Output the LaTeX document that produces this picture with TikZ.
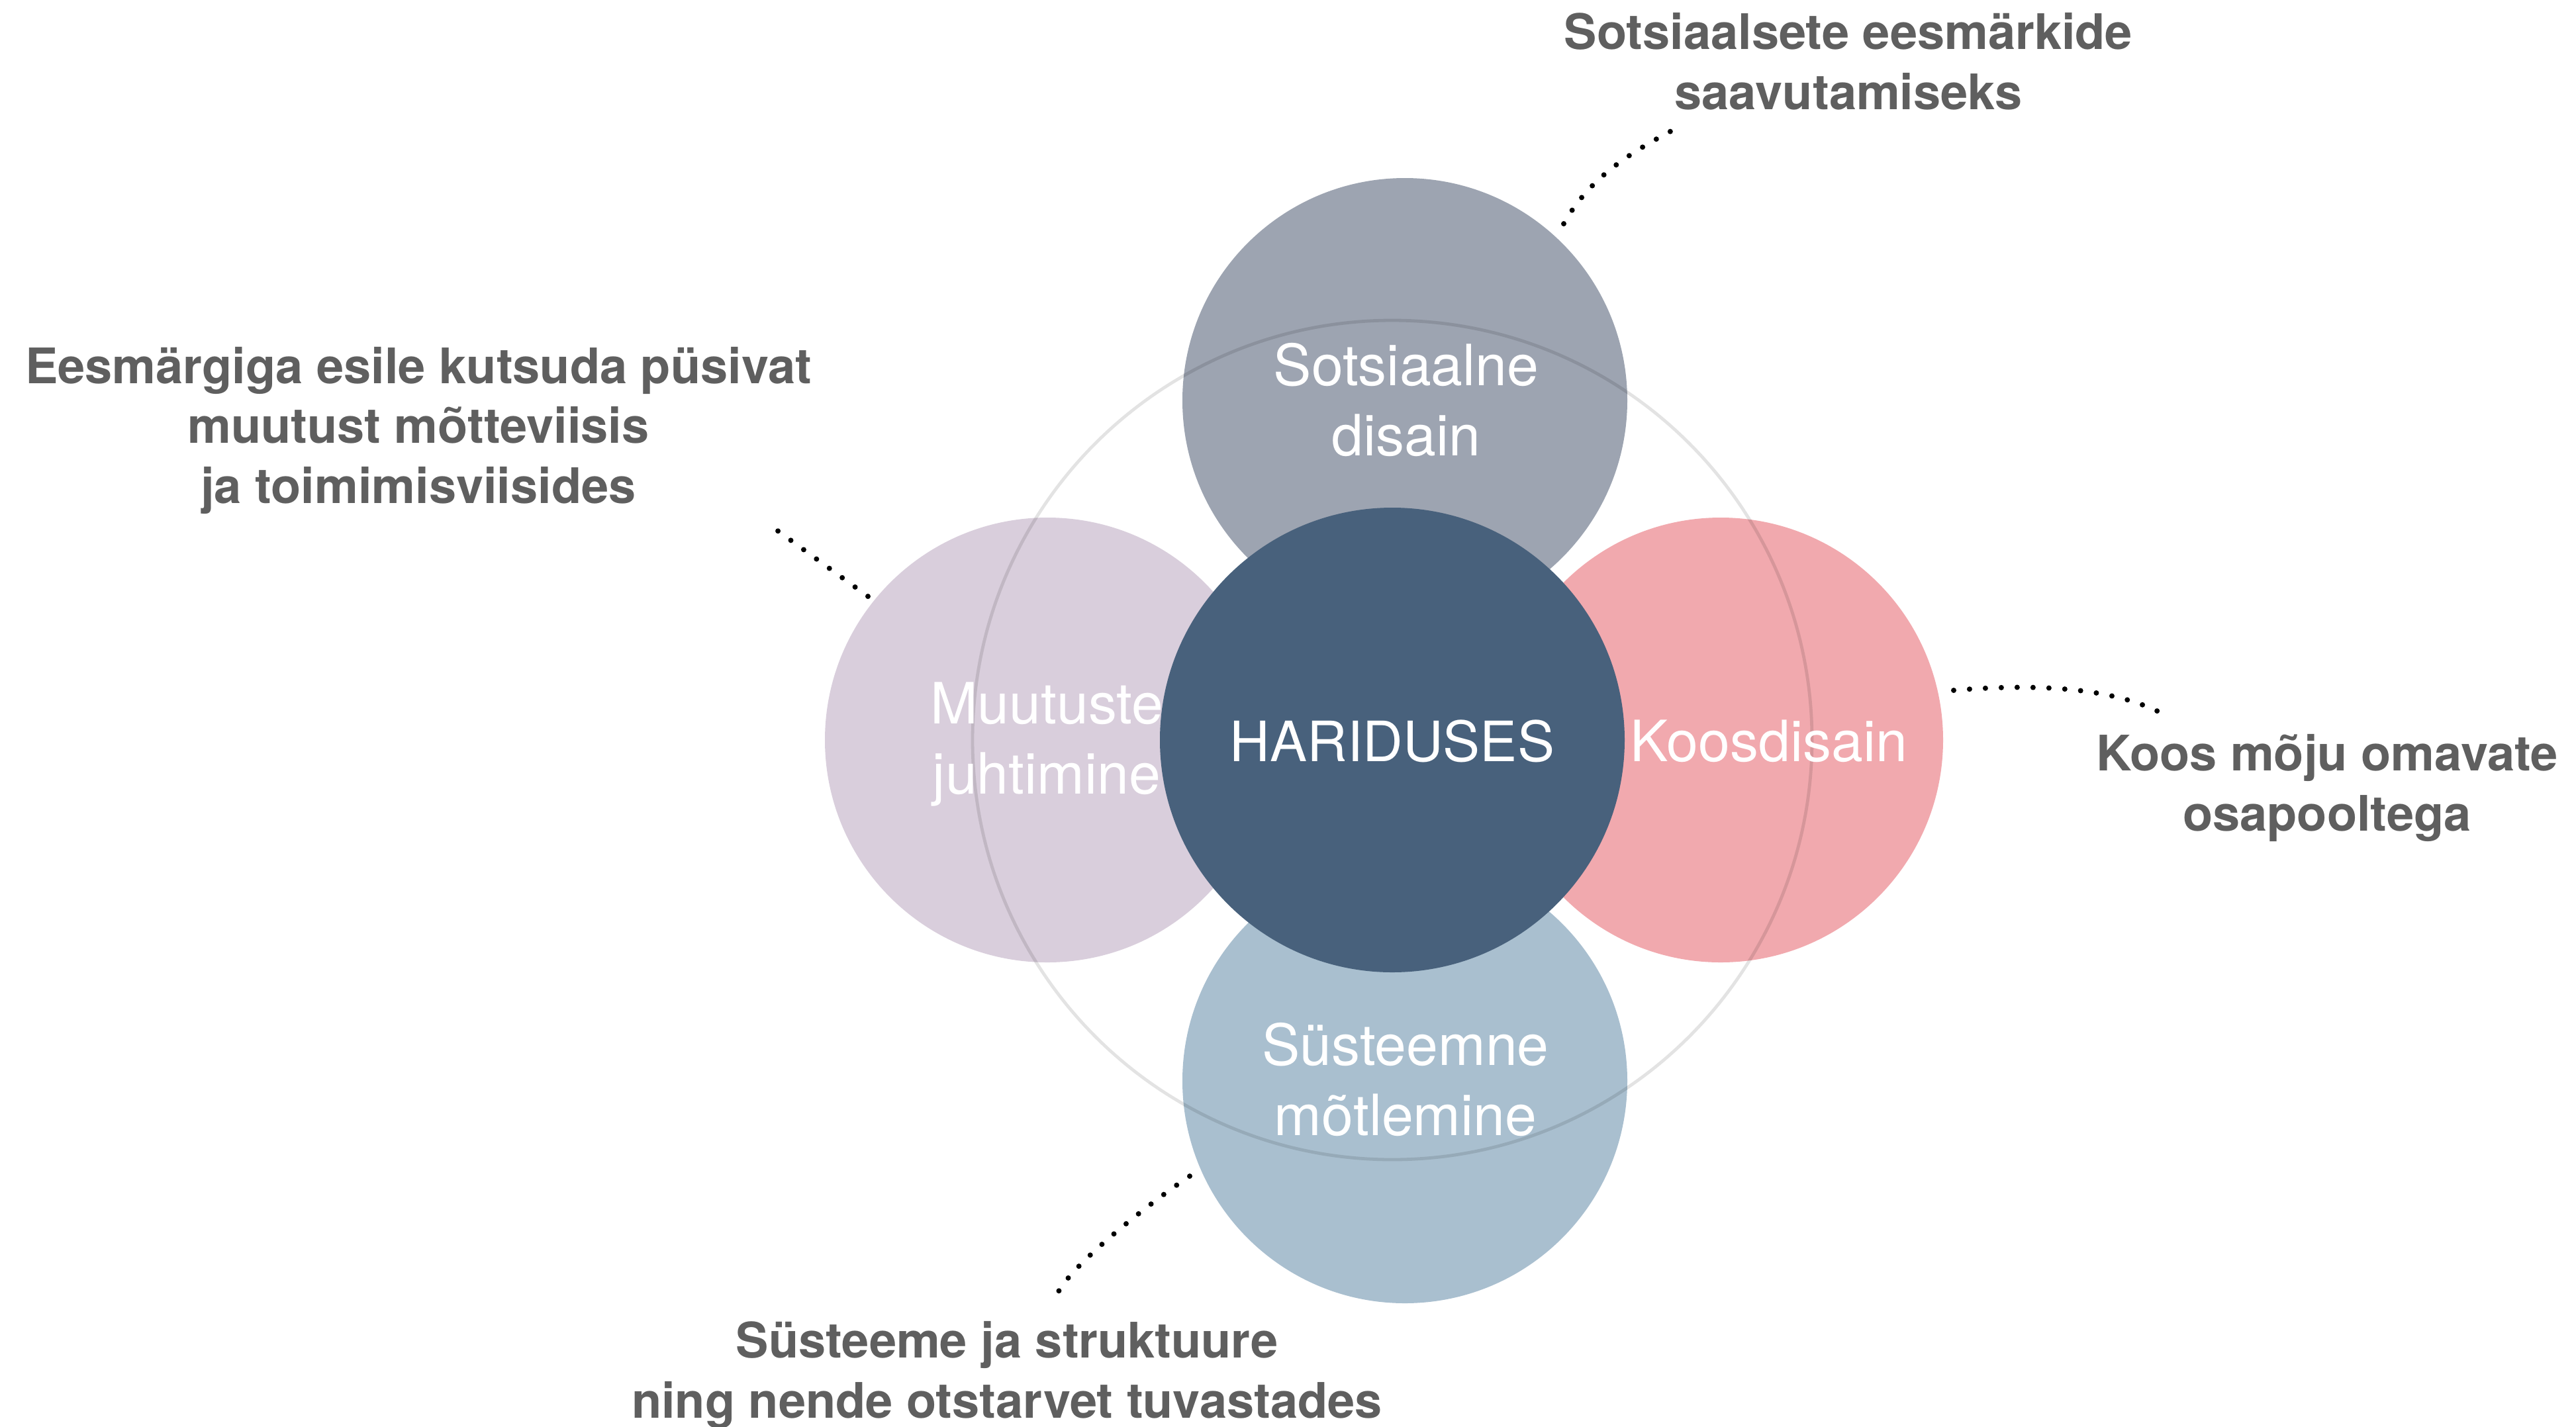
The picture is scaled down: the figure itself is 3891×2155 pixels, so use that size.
\documentclass[tikz,border=0pt]{standalone}
\usepackage{fontspec}
\setmainfont{TeX Gyre Heros}
\definecolor{cTop}{HTML}{9DA4B1}
\definecolor{cLeft}{HTML}{D9CEDC}
\definecolor{cRight}{HTML}{F1A9AE}
\definecolor{cBot}{HTML}{A9BFCF}
\definecolor{cMid}{HTML}{48617C}
\definecolor{cLbl}{HTML}{5F5F5F}
\begin{document}
\begin{tikzpicture}[x=0.25pt,y=-0.25pt,
  petal/.style={circle,inner sep=0pt,draw=none,minimum size=168pt},
  inner/.style={text=white,align=center,anchor=base,font=\fontsize{21.5}{26.5}\selectfont},
  lbl/.style={text=cLbl,align=center,anchor=base,font=\bfseries\fontsize{18.5}{22.6}\selectfont},
  dots/.style={draw=black,line width=2pt,line cap=round,dash pattern=on 0pt off 6pt}]
\useasboundingbox (0,0) rectangle (3891,2155);
% petals
\node[petal,fill=cTop] (top) at (2122,605) {};
\node[petal,fill=cLeft] (left) at (1582,1118) {};
\node[petal,fill=cRight] (right) at (2599,1118) {};
\node[petal,fill=cBot] (bot) at (2122,1633) {};
% ring
\node[circle,inner sep=0pt,minimum size=317pt,draw=black,draw opacity=0.11,line width=1.2pt] (ring) at (2103,1118) {};
% petal texts (anchor = baseline of last line)
\node[inner] (ttop) at (2124,688) {Sotsiaalne\\disain};
\node[inner] (tleft) at (1581,1199) {Muutuste\\juhtimine};
\node[inner] (tbot) at (2123,1715) {Süsteemne\\mõtlemine};
% center
\node[circle,inner sep=0pt,minimum size=175.5pt,fill=cMid] (mid) at (2103,1118) {};
\node[inner,font=\fontsize{21}{26}\selectfont] (tmid) at (2103,1150) {HARIDUSES};
\node[inner] (tright) at (2672,1150) {Koosdisain};
% labels
\node[lbl] (ltop) at (2792,165) {Sotsiaalsete eesmärkide\\saavutamiseks};
\node[lbl] (lleft) at (632,760) {Eesmärgiga esile kutsuda püsivat\\muutust mõtteviisis\\ja toimimisviisides};
\node[lbl] (lright) at (3515,1255) {Koos mõju omavate\\osapooltega};
\node[lbl] (lbot) at (1521,2142) {Süsteeme ja struktuure\\ning nende otstarvet tuvastades};
% connector ends
\coordinate (tA) at (2362,338);
\coordinate (tB) at (2526,197);
\coordinate (lA) at (1311,901);
\coordinate (lB) at (1172,800);
\coordinate (rA) at (2951,1043);
\coordinate (rB) at (3262,1076);
\coordinate (bA) at (1797,1777);
\coordinate (bB) at (1599,1951);
\draw[dots] (tA) .. controls (2400,270) and (2460,232) .. (tB);
\draw[dots] (lA) -- (lB);
\draw[dots] (rA) .. controls (3080,1032) and (3190,1040) .. (rB);
\draw[dots] (bA) .. controls (1740,1815) and (1625,1905) .. (bB);
\end{tikzpicture}
\end{document}
